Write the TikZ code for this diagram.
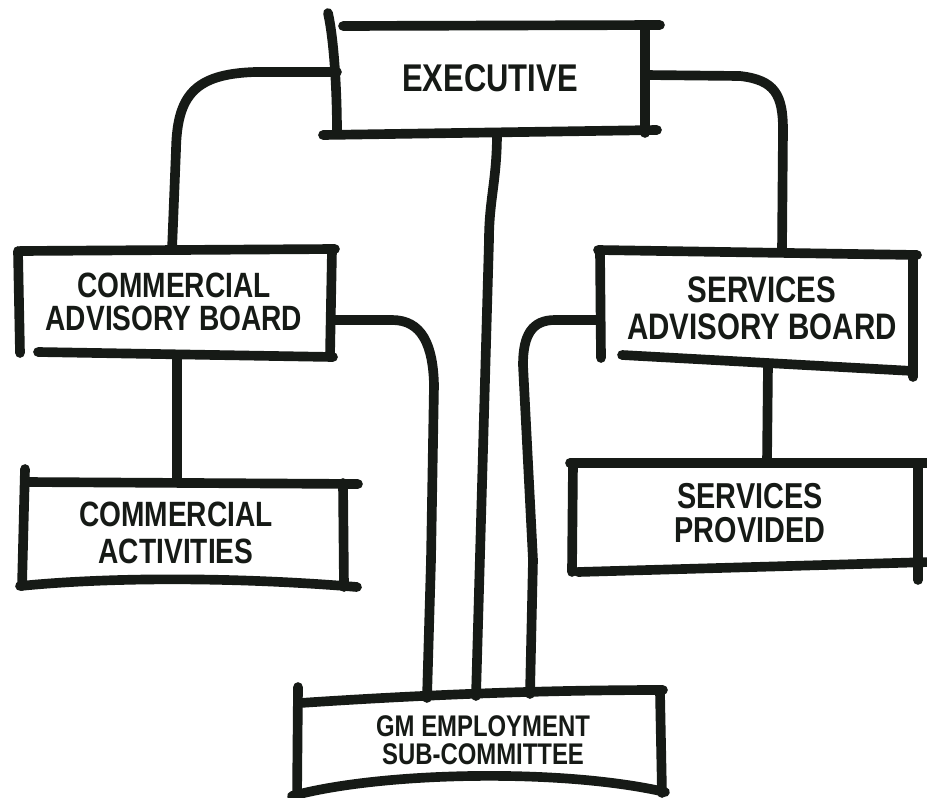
\documentclass[tikz,border=0pt]{standalone}
\usepackage{fontspec}
\newfontfamily\labelfont[FakeStretch=0.8]{Liberation Sans}
\definecolor{ink}{RGB}{22,26,22}
\begin{document}
\begin{tikzpicture}[x=0.02cm,y=-0.02cm,
  pen/.style={draw=ink,line width=5.5pt,line cap=round,line join=round},
  wire/.style={pen},
  lbl/.style={text=ink,align=center,inner sep=0pt,font=\labelfont\bfseries}]
\useasboundingbox (0,0) rectangle (927,798);
\fill[white] (0,0) rectangle (927,798);

% ---- labels ----
\node[lbl,font=\labelfont\bfseries\fontsize{22}{22}\selectfont] (exec) at (490,78) {EXECUTIVE};
\node[lbl,font=\labelfont\bfseries\fontsize{20}{19}\selectfont] (cab) at (174,302) {COMMERCIAL\\ADVISORY BOARD};
\node[lbl,font=\labelfont\bfseries\fontsize{20}{21}\selectfont] (ca) at (176,533) {COMMERCIAL\\ACTIVITIES};
\node[lbl,font=\labelfont\bfseries\fontsize{21}{21}\selectfont] (sab) at (762,308) {SERVICES\\ADVISORY BOARD};
\node[lbl,font=\labelfont\bfseries\fontsize{20.5}{19.5}\selectfont] (sp) at (750,513) {SERVICES\\PROVIDED};
\node[lbl,font=\labelfont\bfseries\fontsize{17}{16}\selectfont] (gm) at (483,740) {GM EMPLOYMENT\\SUB-COMMITTEE};

% ---- hand-drawn boxes ----
% Executive
\draw[pen] (343,26) -- (660,25);
\draw[pen] (328,13) .. controls (334,40) and (337,90) .. (337,133);
\draw[pen] (645,25) -- (645,133);
\draw[pen] (323,135) -- (657,130);
% Commercial Advisory Board
\draw[pen] (20,251) -- (335,249);
\draw[pen] (18,251) -- (20,353);
\draw[pen] (332,250) -- (330,356);
\draw[pen] (38,352) -- (333,357);
% Commercial Activities
\draw[pen] (25,482) -- (358,484);
\draw[pen] (25,469) -- (22,586);
\draw[pen] (343,483) -- (344,587);
\draw[pen] (20,586) .. controls (120,576) and (250,578) .. (357,587);
% Services Advisory Board
\draw[pen] (598,250) -- (917,255);
\draw[pen] (600,250) -- (601,358);
\draw[pen] (913,255) -- (913,377);
\draw[pen] (622,355) -- (913,371);
% Services Provided
\draw[pen] (570,463) -- (930,463);
\draw[pen] (573,463) -- (572,572);
\draw[pen] (918,463) -- (918,580);
\draw[pen] (578,572) -- (930,562);
% GM Employment Sub-Committee
\draw[pen] (300,703) .. controls (420,695) and (540,690) .. (663,690);
\draw[pen] (298,687) -- (297,800);
\draw[pen] (660,692) -- (662,793);
\draw[pen] (292,796) .. controls (380,772) and (560,768) .. (665,792);

% ---- attachment points ----
\coordinate (execW) at (337,72);
\coordinate (execE) at (645,75);
\coordinate (execS) at (497,133);
\coordinate (cabN) at (172,250);
\coordinate (cabE) at (332,320);
\coordinate (cabS) at (177,356);
\coordinate (caN) at (177,482);
\coordinate (sabN) at (782,252);
\coordinate (sabW) at (600,320);
\coordinate (sabS) at (768,364);
\coordinate (spN) at (767,463);
\coordinate (gmA) at (427,698);
\coordinate (gmB) at (476,696);
\coordinate (gmC) at (530,694);

% ---- connectors ----
\draw[wire] (execW) -- (255,72) .. controls (195,74) and (177,95) .. (176,150) -- (cabN);
\draw[wire] (execE) -- (740,76) .. controls (775,80) and (783,95) .. (783,130) -- (sabN);
\draw[wire] (execS) .. controls (497,180) and (489,200) .. (489,240) -- (gmB);
\draw[wire] (cabE) -- (392,320) .. controls (422,320) and (433,345) .. (434,385) -- (431,560) -- (gmA);
\draw[wire] (sabW) -- (555,320) .. controls (532,320) and (523,335) .. (523,365) -- (533,560) -- (gmC);
\draw[wire] (cabS) -- (caN);
\draw[wire] (sabS) -- (spN);
\end{tikzpicture}
\end{document}
